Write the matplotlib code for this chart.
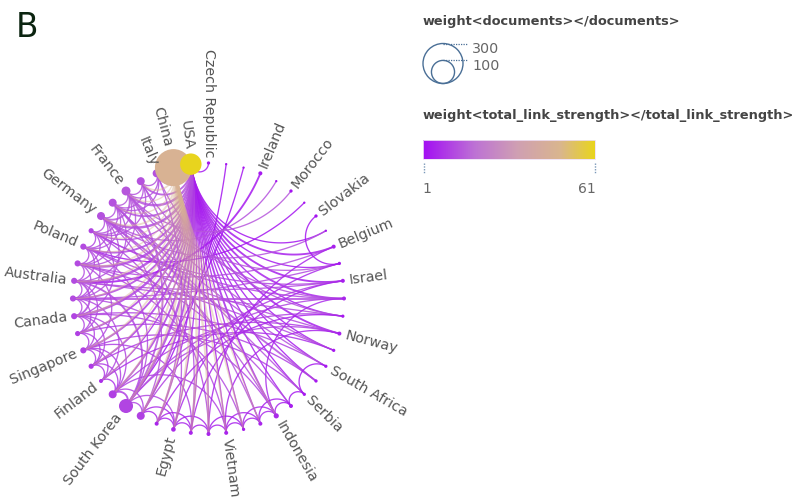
import numpy as np
import matplotlib
matplotlib.use("Agg")
import matplotlib.pyplot as plt
from matplotlib.colors import LinearSegmentedColormap
from matplotlib.patches import Circle, Rectangle

# ─── DATA ────────────────────────────────────────────────────────────────────

# countries in layout order, clockwise from the top of the ring
COUNTRIES = [
    "Czech Republic", "Croatia", "Hungary", "Ireland", "Tunisia", "Morocco",
    "Romania", "Slovakia", "Slovenia", "Belgium", "Austria", "Israel",
    "Denmark", "Sweden", "Norway", "Greece", "South Africa", "Portugal",
    "Serbia", "Thailand", "Indonesia", "Malaysia", "Philippines", "Vietnam",
    "Pakistan", "Iran", "Egypt", "Saudi Arabia", "India", "South Korea",
    "Japan", "Finland", "Netherlands", "Singapore", "Switzerland", "Canada",
    "Spain", "Australia", "United Kingdom", "Poland", "Turkey", "Germany",
    "Brazil", "France", "Taiwan", "Italy", "China", "USA",
]

# labels that survive collision culling
LABELLED = [
    "Czech Republic", "Ireland", "Morocco", "Slovakia", "Belgium", "Israel",
    "Norway", "South Africa", "Serbia", "Indonesia", "Vietnam", "Egypt",
    "South Korea", "Finland", "Singapore", "Canada", "Australia", "Poland",
    "Germany", "France", "Italy", "China", "USA",
]

DOCUMENTS = [
    2, 1, 1, 3, 1, 2, 1, 2, 1, 3, 2, 3,
    3, 2, 3, 2, 2, 2, 2, 3, 5, 3, 2, 3,
    3, 3, 4, 3, 12, 37, 12, 3, 5, 7, 5, 7,
    7, 7, 7, 7, 5, 12, 12, 15, 12, 12, 257, 86,
]

TOTAL_LINK_STRENGTH = [
    3, 2, 2, 3, 2, 2, 2, 2, 2, 4, 3, 4,
    5, 3, 4, 3, 3, 3, 3, 4, 6, 5, 4, 5,
    5, 5, 6, 5, 10, 11, 10, 7, 9, 10, 10, 11,
    12, 12, 12, 12, 11, 13, 13, 14, 13, 13, 47, 61,
]

# (source, target, weight) -- links are coloured by their source country
LINKS = [
    # links with China
    ("China", "Indonesia", 1), ("China", "Malaysia", 1), ("China", "Philippines", 2),
    ("China", "Vietnam", 2), ("China", "Pakistan", 3), ("China", "Iran", 3),
    ("China", "Egypt", 3), ("China", "Saudi Arabia", 3), ("China", "India", 3),
    ("China", "South Korea", 3), ("China", "Japan", 2), ("China", "Finland", 1),
    ("China", "Netherlands", 1), ("China", "Singapore", 2), ("China", "Switzerland", 1),
    ("China", "Canada", 2), ("China", "Spain", 1), ("China", "Australia", 2),
    ("China", "United Kingdom", 2), ("China", "Poland", 1), ("China", "Turkey", 1),
    ("China", "Germany", 2), ("China", "Brazil", 1), ("China", "France", 1),
    ("China", "Taiwan", 2), ("China", "Italy", 1), ("China", "USA", 3),
    # links with the USA
    ("Czech Republic", "USA", 1), ("Slovenia", "USA", 1), ("Belgium", "USA", 2),
    ("Austria", "USA", 1), ("Israel", "USA", 2), ("Denmark", "USA", 2),
    ("Sweden", "USA", 1), ("Norway", "USA", 2), ("Greece", "USA", 1),
    ("South Africa", "USA", 1), ("Portugal", "USA", 1), ("Serbia", "USA", 1),
    ("Thailand", "USA", 1), ("Indonesia", "USA", 2), ("Malaysia", "USA", 1),
    ("Philippines", "USA", 1), ("Vietnam", "USA", 1), ("Pakistan", "USA", 1),
    ("Iran", "USA", 1), ("Egypt", "USA", 1), ("Saudi Arabia", "USA", 1),
    ("India", "USA", 2), ("South Korea", "USA", 3), ("Japan", "USA", 2),
    ("Finland", "USA", 1), ("Netherlands", "USA", 2), ("Singapore", "USA", 2),
    ("Switzerland", "USA", 2), ("Canada", "USA", 3), ("Spain", "USA", 2),
    ("Australia", "USA", 3), ("United Kingdom", "USA", 3), ("Poland", "USA", 2),
    ("Turkey", "USA", 1), ("Germany", "USA", 3), ("Brazil", "USA", 2),
    ("France", "USA", 3), ("Taiwan", "USA", 2), ("Italy", "USA", 3),
    # north-eastern rim to the far side
    ("Croatia", "India", 1), ("Hungary", "South Korea", 1), ("Ireland", "Australia", 2),
    ("Germany", "Tunisia", 1), ("France", "Morocco", 1), ("Romania", "Poland", 1),
    # within the western rim
    ("Italy", "Taiwan", 1), ("Taiwan", "France", 1), ("France", "Brazil", 1),
    ("Brazil", "Germany", 1), ("Germany", "Turkey", 1), ("Turkey", "Poland", 1),
    ("Poland", "United Kingdom", 1), ("United Kingdom", "Australia", 1),
    ("Australia", "Spain", 1), ("Spain", "Canada", 1), ("Canada", "Switzerland", 1),
    ("Switzerland", "Singapore", 1), ("Singapore", "Netherlands", 1),
    ("Netherlands", "Finland", 1), ("Finland", "Japan", 1), ("Japan", "South Korea", 2),
    ("South Korea", "India", 1),
    ("Italy", "France", 1), ("Taiwan", "Brazil", 1), ("France", "Germany", 2),
    ("Brazil", "Turkey", 1), ("Germany", "Poland", 1), ("Turkey", "United Kingdom", 1),
    ("Poland", "Australia", 1), ("United Kingdom", "Spain", 1), ("Australia", "Canada", 2),
    ("Spain", "Switzerland", 1), ("Canada", "Singapore", 1), ("Switzerland", "Netherlands", 1),
    ("Singapore", "Finland", 1), ("Netherlands", "Japan", 1), ("Japan", "India", 1),
    ("Italy", "Brazil", 1), ("France", "Turkey", 1), ("Brazil", "Poland", 1),
    ("Germany", "United Kingdom", 1), ("Poland", "Spain", 1), ("Australia", "Switzerland", 1),
    ("Canada", "Netherlands", 1), ("Singapore", "Japan", 1), ("South Korea", "Egypt", 1),
    ("Taiwan", "Turkey", 1), ("Brazil", "Australia", 1), ("Germany", "Spain", 1),
    ("United Kingdom", "Singapore", 1), ("Spain", "Finland", 1), ("Canada", "Japan", 1),
    ("France", "United Kingdom", 1), ("Turkey", "Canada", 1),
    # western rim to the south
    ("Germany", "India", 1), ("France", "South Korea", 2), ("Poland", "South Korea", 1),
    ("Australia", "South Korea", 2), ("Brazil", "Egypt", 1), ("Taiwan", "Iran", 1),
    ("Turkey", "Pakistan", 1), ("United Kingdom", "Vietnam", 1), ("Spain", "Philippines", 1),
    ("Canada", "Indonesia", 1), ("Brazil", "Malaysia", 1), ("Italy", "Saudi Arabia", 1),
    ("Singapore", "Iran", 1), ("Japan", "Vietnam", 1), ("Germany", "Indonesia", 1),
    ("Poland", "Thailand", 1),
    # western rim across to the east
    ("Spain", "Denmark", 2), ("United Kingdom", "Greece", 1), ("Canada", "South Africa", 1),
    ("Australia", "Sweden", 1), ("Poland", "Norway", 1), ("Turkey", "Israel", 1),
    ("Germany", "Portugal", 2), ("Brazil", "South Africa", 1), ("France", "Greece", 1),
    ("Taiwan", "Denmark", 1), ("Switzerland", "Portugal", 1), ("Singapore", "Serbia", 1),
    ("Netherlands", "Norway", 1), ("Spain", "Austria", 1), ("Australia", "Israel", 1),
    ("United Kingdom", "Belgium", 1), ("Italy", "Sweden", 1), ("Brazil", "Serbia", 1),
    ("France", "Austria", 1), ("Germany", "Slovenia", 1), ("Turkey", "Denmark", 1),
    ("Finland", "Greece", 1), ("Japan", "Sweden", 1), ("South Korea", "Denmark", 1),
    ("South Korea", "Norway", 1), ("India", "Israel", 1),
    # southern rim
    ("Serbia", "Thailand", 1), ("Thailand", "Indonesia", 1), ("Indonesia", "Malaysia", 1),
    ("Malaysia", "Philippines", 1), ("Philippines", "Vietnam", 1), ("Indonesia", "Philippines", 1),
    ("Malaysia", "Vietnam", 1), ("Vietnam", "Pakistan", 1), ("Pakistan", "Iran", 1),
    ("Iran", "Egypt", 1), ("Egypt", "Saudi Arabia", 1), ("Saudi Arabia", "India", 1),
    ("Pakistan", "Egypt", 1), ("Iran", "Saudi Arabia", 1), ("Philippines", "Pakistan", 1),
    ("Egypt", "India", 1), ("Thailand", "Malaysia", 1),
    # southern rim to the east
    ("Pakistan", "Belgium", 1), ("Egypt", "Austria", 1), ("Indonesia", "Denmark", 1),
    ("Vietnam", "Norway", 1), ("Saudi Arabia", "Sweden", 1), ("Iran", "Israel", 1),
    # eastern rim
    ("Slovakia", "Austria", 1), ("South Africa", "Serbia", 1),
]

SIZE_LEGEND = [300, 100]
TLS_MIN, TLS_MAX = 1, 61

# ─── STYLE ───────────────────────────────────────────────────────────────────

CX, CY, RING = 208.5, 298.5, 135.5      # ring centre and radius, in pixels
MAX_R, MAX_DOCS = 20.0, 300              # a 300-document node has a 20 px radius
LABEL_GREY = "#555555"
TITLE_GREY = "#444444"
LEGEND_BLUE = "#4a6f96"

cmap = LinearSegmentedColormap.from_list(
    "tls",
    [(0.0, "#a30ff2"), (0.3, "#bd72d4"), (0.55, "#cf9fb2"),
     (0.8, "#d9b58e"), (1.0, "#e8d41e")],
)


def tls_colour(v):
    return cmap((v - TLS_MIN) / (TLS_MAX - TLS_MIN))


def node_radius(docs):
    return MAX_R * np.sqrt(docs / MAX_DOCS)


def ring_arc(t1, t2, n=90):
    """Arc between two ring positions that meets the ring at right angles."""
    p1 = np.array([np.cos(t1), np.sin(t1)])
    p2 = np.array([np.cos(t2), np.sin(t2)])
    sep = np.arccos(np.clip(p1 @ p2, -1.0, 1.0))
    mid = p1 + p2
    if sep > np.radians(178) or np.linalg.norm(mid) < 1e-6:
        pts = np.linspace(p1, p2, n)
    else:
        u = mid / np.linalg.norm(mid)
        o = u / np.cos(sep / 2)
        rho = np.tan(sep / 2)
        f1 = np.arctan2(p1[1] - o[1], p1[0] - o[0])
        f2 = np.arctan2(p2[1] - o[1], p2[0] - o[0])
        d = (f2 - f1 + np.pi) % (2 * np.pi) - np.pi
        f = f1 + d * np.linspace(0, 1, n)
        pts = o + rho * np.column_stack([np.cos(f), np.sin(f)])
    return CX + RING * pts[:, 0], CY - RING * pts[:, 1]


# ─── DRAW ────────────────────────────────────────────────────────────────────

fig = plt.figure(figsize=(7.98, 5.04), dpi=100)
ax = fig.add_axes([0, 0, 1, 1])
ax.set_xlim(0, 798)
ax.set_ylim(504, 0)
ax.axis("off")

n = len(COUNTRIES)
angle = {c: np.radians(90 - 360 / n * i) for i, c in enumerate(COUNTRIES)}
tls = dict(zip(COUNTRIES, TOTAL_LINK_STRENGTH))
docs = dict(zip(COUNTRIES, DOCUMENTS))

# links; the China bundle is laid thinly over the rest so it still shows
for src, dst, w in LINKS:
    xs, ys = ring_arc(angle[src], angle[dst])
    hub = src == "China"
    ax.plot(xs, ys, color=tls_colour(tls[src]), lw=0.95 + 0.4 * (w - 1),
            alpha=0.45 if hub else 0.85, solid_capstyle="round",
            zorder=2.5 if hub else 2)

# nodes
for c in COUNTRIES:
    t = angle[c]
    ax.add_patch(Circle((CX + RING * np.cos(t), CY - RING * np.sin(t)),
                        node_radius(docs[c]), color=tls_colour(tls[c]),
                        lw=0, zorder=3))

# radial labels
for c in LABELLED:
    t = angle[c]
    deg = np.degrees(t)
    rl = RING + node_radius(docs[c]) + 4
    x, y = CX + rl * np.cos(t), CY - rl * np.sin(t)
    if -90 < deg < 90:
        rot, ha = deg, "left"
    else:
        rot, ha = deg - 180, "right"
    ax.text(x, y, c, rotation=rot, rotation_mode="anchor", ha=ha, va="center",
            fontsize=10.3, color=LABEL_GREY, zorder=4)

# panel letter
ax.text(16, 37, "B", fontsize=23.5, color="#0b2410", va="baseline", ha="left")

# size legend
ax.text(423, 21, "weight<documents></documents>", fontsize=9.3,
        fontweight="bold", color=TITLE_GREY, va="center", ha="left")
base_y, lx = 83.5, 443
for v in SIZE_LEGEND:
    r = node_radius(v)
    ax.add_patch(Circle((lx, base_y - r), r, fill=False, ec=LEGEND_BLUE, lw=1.0))
    top = base_y - 2 * r
    ax.plot([lx, 467], [top, top], color=LEGEND_BLUE, lw=0.9, ls=(0, (1, 1)))
    ax.text(472, top + 5.5, str(v), fontsize=10.3, color="#666666",
            va="center", ha="left")

# colour legend
ax.text(423, 116, "weight<total_link_strength></total_link_strength>",
        fontsize=9.3, fontweight="bold", color=TITLE_GREY, va="center", ha="left")
gx = np.linspace(423, 595, 173)
gy = np.array([139.5, 158.5])
gv = np.linspace(TLS_MIN, TLS_MAX, len(gx) - 1)[None, :]
ax.pcolormesh(gx, gy, gv, cmap=cmap, vmin=TLS_MIN, vmax=TLS_MAX,
              shading="flat", zorder=2)
ax.add_patch(Rectangle((423, 139.5), 172, 19, fill=False, ec="#eedff5", lw=0.6, zorder=3))
for xv, lab, ha in [(423.5, str(TLS_MIN), "left"), (594.5, str(TLS_MAX), "right")]:
    ax.plot([xv, xv], [163, 174], color="#7a98b8", lw=1.0, ls=(0, (1, 1)))
    ax.text(xv - 1 if ha == "left" else xv + 1, 189, lab, fontsize=10,
            color="#666666", va="center", ha=ha)

ax.set_xlim(0, 798)
ax.set_ylim(504, 0)
fig.savefig("out.png", dpi=100)
